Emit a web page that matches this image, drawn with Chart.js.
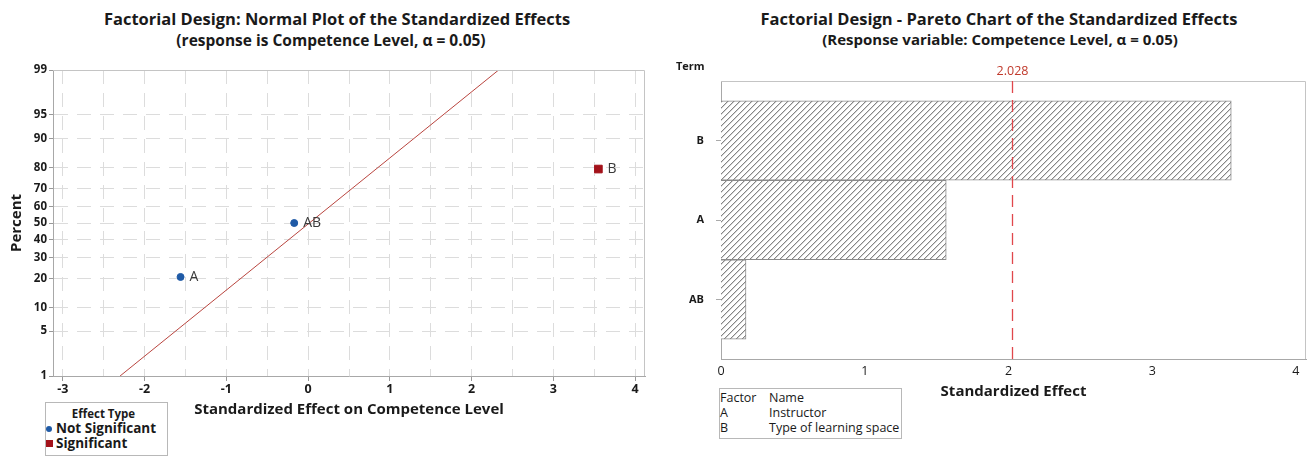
<!DOCTYPE html>
<html><head><meta charset="utf-8">
<script src="https://cdn.jsdelivr.net/npm/chart.js@4/dist/chart.umd.min.js"></script>
<style>
body{margin:0;background:#fff;width:1309px;height:457px;overflow:hidden;position:relative;font-family:"Open Sans",sans-serif;color:#1a1a1a;}
.ttl{position:absolute;white-space:nowrap;transform:translate(-50%,-50%);font-weight:bold;}
#c1{position:absolute;left:0;top:0;}
#c2{position:absolute;left:655px;top:0;}
.box{position:absolute;border:1px solid #b8b8b8;background:#fff;font-size:12.5px;line-height:15px;}
.row{white-space:nowrap;position:relative;}
</style></head>
<body>
<div class="ttl" style="left:337px;top:18px;font-size:16.5px;">Factorial Design: Normal Plot of the Standardized Effects</div>
<div class="ttl" style="left:331px;top:40px;font-size:15.5px;">(response is Competence Level, α = 0.05)</div>
<div class="ttl" style="left:999px;top:18px;font-size:16.5px;">Factorial Design - Pareto Chart of the Standardized Effects</div>
<div class="ttl" style="left:1000px;top:39px;font-size:15px;">(Response variable: Competence Level, α = 0.05)</div>
<canvas id="c1" width="655" height="457"></canvas>
<canvas id="c2" width="654" height="457"></canvas>
<div class="box" style="left:45px;top:402px;width:121px;height:52px;font-weight:bold;font-size:13.5px;">
  <div class="row" style="text-align:center;margin-top:3px;padding-right:6px;font-size:11.5px;">Effect Type</div>
  <div class="row" style="padding-left:10px;"><span style="position:absolute;left:0px;top:5px;width:6px;height:6px;border-radius:50%;background:#1f5aa6;"></span>Not Significant</div>
  <div class="row" style="padding-left:10px;"><span style="position:absolute;left:0px;top:4px;width:7px;height:7px;background:#a3121a;"></span>Significant</div>
</div>
<div class="box" style="left:719px;top:388px;width:181px;height:48px;padding-top:1px;">
  <div class="row"><span style="display:inline-block;width:49px;">Factor</span>Name</div>
  <div class="row"><span style="display:inline-block;width:49px;">A</span>Instructor</div>
  <div class="row"><span style="display:inline-block;width:49px;">B</span>Type of learning space</div>
</div>
<script>
// ---------- data ----------
const effectNames = ['A', 'AB', 'B'];
const effectValues = [-1.56, -0.17, 3.55];
const effectPercents = [20.6, 50, 79.4];
const effectSignificant = [false, false, true];
const fitLineEffects = [-2.30, 2.33];
const fitLinePercents = [1, 99];
const percentTickLabels = [1, 5, 10, 20, 30, 40, 50, 60, 70, 80, 90, 95, 99];
const normalXTickLabels = [-3, -2, -1, 0, 1, 2, 3, 4];

const paretoTerms = ['B', 'A', 'AB'];
const paretoEffects = [3.55, 1.567, 0.174];
const paretoTickLabels = [0, 1, 2, 3, 4];
const criticalValue = 2.028;

// inverse normal CDF (probability scale of the normal plot)
function probit(p) {
  const a = [-3.969683028665376e+01, 2.209460984245205e+02, -2.759285104469687e+02, 1.383577518672690e+02, -3.066479806614716e+01, 2.506628277459239e+00];
  const b = [-5.447609879822406e+01, 1.615858368580409e+02, -1.556989798598866e+02, 6.680131188771972e+01, -1.328068155288572e+01];
  const c = [-7.784894002430293e-03, -3.223964580411365e-01, -2.400758277161838e+00, -2.549732539343734e+00, 4.374664141464968e+00, 2.938163982698783e+00];
  const d = [7.784695709041462e-03, 3.224671290700398e-01, 2.445134137142996e+00, 3.754408661907416e+00];
  const pl = 0.02425, ph = 1 - pl;
  let q, r;
  if (p < pl) { q = Math.sqrt(-2 * Math.log(p)); return (((((c[0]*q+c[1])*q+c[2])*q+c[3])*q+c[4])*q+c[5]) / ((((d[0]*q+d[1])*q+d[2])*q+d[3])*q+1); }
  if (p <= ph) { q = p - 0.5; r = q*q; return (((((a[0]*r+a[1])*r+a[2])*r+a[3])*r+a[4])*r+a[5])*q / (((((b[0]*r+b[1])*r+b[2])*r+b[3])*r+b[4])*r+1); }
  q = Math.sqrt(-2 * Math.log(1 - p)); return -(((((c[0]*q+c[1])*q+c[2])*q+c[3])*q+c[4])*q+c[5]) / ((((d[0]*q+d[1])*q+d[2])*q+d[3])*q+1);
}

Chart.defaults.font.family = '"Open Sans", sans-serif';
Chart.defaults.color = '#1a1a1a';
Chart.defaults.animation = false;

const frame = (color) => ({
  id: 'frame',
  afterDatasetsDraw(chart) {
    const a = chart.chartArea, ctx = chart.ctx;
    ctx.save(); ctx.strokeStyle = color; ctx.lineWidth = 1;
    ctx.beginPath();
    ctx.moveTo(a.left, a.top + 0.5); ctx.lineTo(a.right - 0.5, a.top + 0.5); ctx.lineTo(a.right - 0.5, a.bottom);
    ctx.stroke(); ctx.restore();
  }
});

// ---------- normal plot ----------
const pts = (sig) => effectValues.map((v, i) => ({x: v, y: probit(effectPercents[i] / 100), name: effectNames[i], s: effectSignificant[i]})).filter(p => p.s === sig);
const labelPlugin = {
  id: 'ptlabels',
  afterDatasetsDraw(chart) {
    const ctx = chart.ctx;
    ctx.save(); ctx.font = '14px "Open Sans", sans-serif'; ctx.fillStyle = '#3a3a3a'; ctx.textBaseline = 'middle';
    [1, 2].forEach(di => {
      chart.getDatasetMeta(di).data.forEach((el, j) => {
        ctx.fillText(chart.data.datasets[di].data[j].name, el.x + 9, el.y);
      });
    });
    ctx.restore();
  }
};
const halfSteps = [];
for (let i = 0; i < normalXTickLabels.length; i++) { halfSteps.push(normalXTickLabels[i]); if (i < normalXTickLabels.length - 1) halfSteps.push(normalXTickLabels[i] + 0.5); }

new Chart(document.getElementById('c1'), {
  type: 'scatter',
  data: { datasets: [
    { type: 'line', data: fitLineEffects.map((x, i) => ({x, y: probit(fitLinePercents[i] / 100)})), borderColor: '#b9453f', borderWidth: 1, pointRadius: 0, showLine: true },
    { label: 'Not Significant', data: pts(false), backgroundColor: '#1f5aa6', borderColor: '#1f5aa6', pointRadius: 3.5, pointStyle: 'circle' },
    { label: 'Significant', data: pts(true), backgroundColor: '#a3121a', borderColor: '#a3121a', pointRadius: 5.4, pointStyle: 'rect' }
  ]},
  options: {
    responsive: false, devicePixelRatio: 1,
    layout: { padding: { left: 0, top: 70, right: 10, bottom: 38 } },
    plugins: { legend: { display: false }, tooltip: { enabled: false } },
    scales: {
      x: {
        type: 'linear', min: -3.12, max: 4.12,
        afterBuildTicks: s => { s.ticks = halfSteps.map(v => ({value: v})); },
        afterFit: s => { s.height = 43; },
        ticks: { autoSkip: false, maxRotation: 0, padding: 1, font: { size: 12.5, weight: 'bold' }, callback: v => Number.isInteger(v) ? String(v) : '' },
        grid: { color: '#dcdcdc', tickLength: 5, tickColor: c => (c.tick && Number.isInteger(c.tick.value)) ? '#999' : 'rgba(0,0,0,0)', tickBorderDash: [] },
        border: { color: '#a8a8a8', dash: [14, 9] },
        title: { display: true, text: 'Standardized Effect on Competence Level', font: { size: 15, weight: 'bold' }, padding: { top: 0, bottom: 0 } }
      },
      y: {
        type: 'linear', min: probit(percentTickLabels[0] / 100), max: probit(percentTickLabels[percentTickLabels.length - 1] / 100),
        afterBuildTicks: s => { s.ticks = percentTickLabels.map(p => ({value: probit(p / 100)})); },
        afterFit: s => { s.width = 53; },
        ticks: { autoSkip: false, padding: 2, font: { size: 11.5, weight: 'bold' }, callback: (v, i) => String(percentTickLabels[i]) },
        grid: { color: '#dcdcdc', tickLength: 4, tickColor: '#999', tickBorderDash: [] },
        border: { color: '#a8a8a8', dash: [14, 9] },
        title: { display: true, text: 'Percent', font: { size: 15, weight: 'bold' }, padding: { top: 8, bottom: 0 } }
      }
    }
  },
  plugins: [frame('#c4c4c4'), labelPlugin]
});

// ---------- pareto ----------
function hatch() {
  const n = 6;
  const t = document.createElement('canvas'); t.width = n; t.height = n;
  const g = t.getContext('2d');
  g.fillStyle = '#fff'; g.fillRect(0, 0, n, n);
  for (let i = 0; i < n; i++) { g.fillStyle = '#858585'; g.fillRect(i, n - 1 - i, 1, 1); g.fillStyle = '#d4d4d4'; g.fillRect((i + 1) % n, n - 1 - i, 1, 1); }
  return document.getElementById('c2').getContext('2d').createPattern(t, 'repeat');
}
const critPlugin = {
  id: 'crit',
  afterDatasetsDraw(chart) {
    const ctx = chart.ctx, a = chart.chartArea, x = Math.round(chart.scales.x.getPixelForValue(criticalValue)) + 0.5;
    ctx.save();
    ctx.strokeStyle = '#e0474c'; ctx.lineWidth = 1.3; ctx.setLineDash([12, 7]);
    ctx.beginPath(); ctx.moveTo(x, a.top); ctx.lineTo(x, a.bottom); ctx.stroke();
    ctx.setLineDash([]);
    ctx.fillStyle = '#c0392b'; ctx.font = '12.5px "Open Sans", sans-serif'; ctx.textAlign = 'center'; ctx.textBaseline = 'middle';
    ctx.fillText(criticalValue.toFixed(3), x, a.top - 10);
    ctx.fillStyle = '#1a1a1a'; ctx.font = 'bold 11px "Open Sans", sans-serif'; ctx.textAlign = 'left';
    ctx.fillText('Term', a.left - 45, a.top - 14);
    ctx.restore();
  }
};
new Chart(document.getElementById('c2'), {
  type: 'bar',
  data: { datasets: [{
    data: paretoTerms.map((t, i) => ({x: paretoEffects[i], y: i})),
    backgroundColor: hatch(), borderColor: '#8a8a8a', borderWidth: 1,
    barPercentage: 1, categoryPercentage: 1
  }]},
  options: {
    indexAxis: 'y', responsive: false, devicePixelRatio: 1,
    layout: { padding: { left: 0, top: 81, right: 3, bottom: 56 } },
    plugins: { legend: { display: false }, tooltip: { enabled: false } },
    scales: {
      x: {
        type: 'linear', min: 0, max: 4.07,
        afterBuildTicks: s => { s.ticks = paretoTickLabels.map(v => ({value: v})); },
        afterFit: s => { s.height = 42; },
        ticks: { autoSkip: false, maxRotation: 0, padding: 5, font: { size: 12.5 } },
        grid: { display: false, drawTicks: false },
        border: { color: '#a8a8a8' },
        title: { display: true, text: 'Standardized Effect', font: { size: 15, weight: 'bold' }, padding: { top: 0, bottom: 0 } }
      },
      y: {
        type: 'linear', min: -0.75, max: 2.75, reverse: true, offset: false,
        afterBuildTicks: s => { s.ticks = paretoTerms.map((t, i) => ({value: i})); },
        afterFit: s => { s.width = 66; },
        ticks: { autoSkip: false, padding: 12, font: { size: 11, weight: 'bold' }, callback: (v, i) => paretoTerms[i] },
        grid: { offset: false, drawOnChartArea: false, tickLength: 5, tickColor: '#aaa' },
        border: { color: '#a8a8a8' }
      }
    }
  },
  plugins: [frame('#c4c4c4'), critPlugin]
});
</script>
</body></html>
